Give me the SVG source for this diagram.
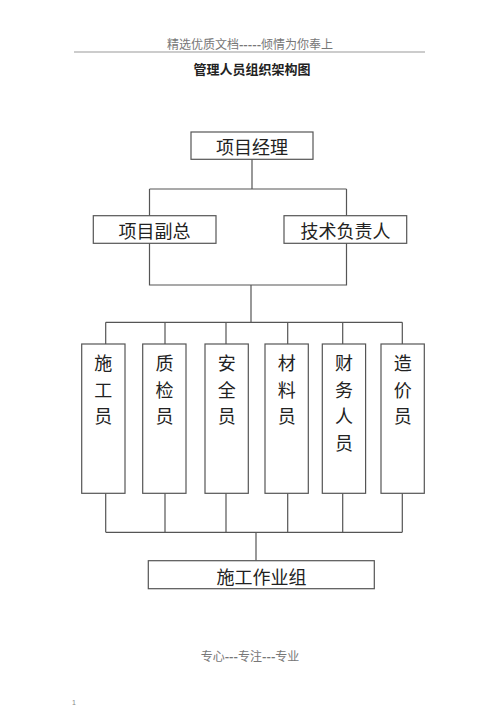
<svg xmlns="http://www.w3.org/2000/svg" width="500" height="708" viewBox="0 0 500 708">
<style>
.box{fill:#fff;stroke:#555;stroke-width:1.2}
.ln{fill:none;stroke:#555;stroke-width:1.2}
.t{font-family:"Noto Sans CJK SC","Liberation Serif",sans-serif;font-size:18px;fill:#222;text-anchor:middle;dominant-baseline:central}
.hd{font-family:"Noto Sans CJK SC","Liberation Serif",sans-serif;font-size:12px;fill:#777;text-anchor:middle}
</style>
<rect width="500" height="708" fill="#fff"/>
<text class="hd" x="250" y="49">精选优质文档<tspan font-weight="bold">-----</tspan>倾情为你奉上</text>
<line x1="74" y1="52" x2="425" y2="52" stroke="#bbb" stroke-width="1.5"/>
<text x="252" y="74" font-family="Noto Sans CJK SC,sans-serif" font-size="13" font-weight="bold" fill="#222" text-anchor="middle">管理人员组织架构图</text>
<g id="connectors">
<path class="ln" d="M252,159V189M149.5,189H346.5M149.5,189V216M346.5,189V216"/>
<path class="ln" d="M149.5,243V285H346.5V243M251,285V322.3"/>
<path class="ln" d="M105.7,322.3H402.3M105.7,322.3V344M165,322.3V344M226,322.3V344M287.7,322.3V344M342.7,322.3V344M402.3,322.3V344"/>
<path class="ln" d="M105.7,493.3V532.3M165,493.3V532.3M226,493.3V532.3M287.7,493.3V532.3M342.7,493.3V532.3M402.3,493.3V532.3M105.7,532.3H402.3M256,532.3V560.7"/>
</g>
<g id="n-manager"><rect class="box" x="191" y="132" width="122" height="27.3"/><text class="t" x="252" y="146">项目经理</text></g>
<g id="n-deputy"><rect class="box" x="93.3" y="215.7" width="122.7" height="27.6"/><text class="t" x="154.5" y="229.5">项目副总</text></g>
<g id="n-tech"><rect class="box" x="284" y="215.7" width="122.7" height="27.6"/><text class="t" x="345.5" y="229.5">技术负责人</text></g>
<g id="n-sg"><rect class="box" x="81.7" y="344" width="43.3" height="149.3"/><text class="t" x="103.3"><tspan x="103.3" y="361.7">施</tspan><tspan x="103.3" y="388.5">工</tspan><tspan x="103.3" y="415">员</tspan></text></g>
<g id="n-zj"><rect class="box" x="142.7" y="344" width="43.3" height="149.3"/><text class="t" x="164.5"><tspan x="164.5" y="361.7">质</tspan><tspan x="164.5" y="388.5">检</tspan><tspan x="164.5" y="415">员</tspan></text></g>
<g id="n-aq"><rect class="box" x="205" y="344" width="43.3" height="149.3"/><text class="t" x="226.7"><tspan x="226.7" y="361.7">安</tspan><tspan x="226.7" y="388.5">全</tspan><tspan x="226.7" y="415">员</tspan></text></g>
<g id="n-cl"><rect class="box" x="265" y="344" width="43.3" height="149.3"/><text class="t" x="286.7"><tspan x="286.7" y="361.7">材</tspan><tspan x="286.7" y="388.5">料</tspan><tspan x="286.7" y="415">员</tspan></text></g>
<g id="n-cw"><rect class="box" x="322.3" y="344" width="43.3" height="149.3"/><text class="t" x="344"><tspan x="344" y="361.7">财</tspan><tspan x="344" y="388.5">务</tspan><tspan x="344" y="415">人</tspan><tspan x="344" y="441.5">员</tspan></text></g>
<g id="n-zja"><rect class="box" x="381" y="344" width="43.3" height="149.3"/><text class="t" x="402.7"><tspan x="402.7" y="361.7">造</tspan><tspan x="402.7" y="388.5">价</tspan><tspan x="402.7" y="415">员</tspan></text></g>
<g id="n-team"><rect class="box" x="148.3" y="560.7" width="226" height="28"/><text class="t" x="261.5" y="576">施工作业组</text></g>
<text class="hd" x="250" y="661" font-size="11">专心<tspan font-weight="bold">---</tspan>专注<tspan font-weight="bold">---</tspan>专业</text>
<text x="74" y="705" font-family="Liberation Sans,sans-serif" font-size="7" fill="#888" text-anchor="middle">1</text>
</svg>
